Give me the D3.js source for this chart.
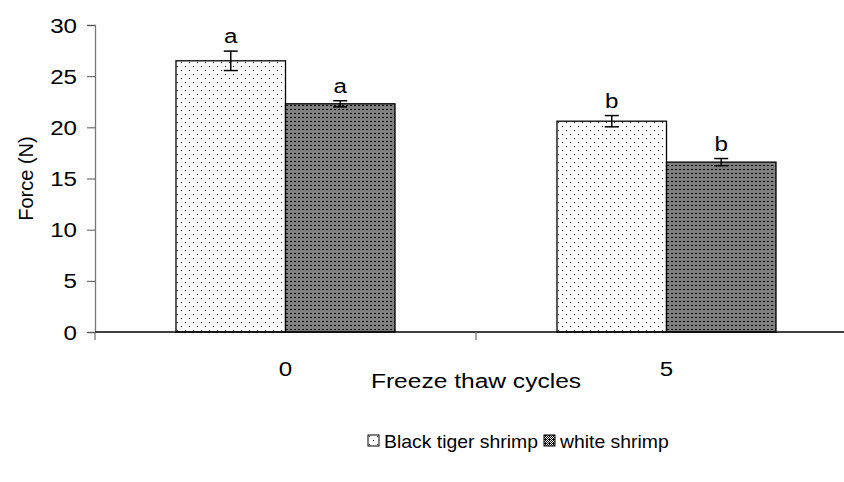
<!DOCTYPE html>
<html>
<head>
<meta charset="utf-8">
<script src="https://cdn.jsdelivr.net/npm/d3@7"></script>
<style>
  body { margin: 0; background: #fff; }
  text { font-family: "Liberation Sans", Arial, sans-serif; fill: #000; }
</style>
</head>
<body>
<div id="chart"></div>
<script>
// data
var cycles = ["0", "5"];
var seriesNames = ["Black tiger shrimp", "white shrimp"];
var tigerForce = [26.5, 20.6];
var tigerErr = [0.95, 0.55];
var whiteForce = [22.3, 16.6];
var whiteErr = [0.3, 0.35];
var tigerLetters = ["a", "b"];
var whiteLetters = ["a", "b"];
var yTicks = [0, 5, 10, 15, 20, 25, 30];

var svgWidth = 844, svgHeight = 482;
var margin = { top: 25, right: -13, bottom: 150, left: 95 };
var width = svgWidth - margin.left - margin.right;
var height = svgHeight - margin.top - margin.bottom;

var svg = d3.select("#chart").append("svg")
    .attr("width", svgWidth)
    .attr("height", svgHeight);

// the source picture is a bit stretched sideways, so the text is too
function label(parent, x, y, str, size, sx, anchor) {
    return parent.append("text")
        .attr("transform", `translate(${x},${y}) scale(${sx},1)`)
        .attr("text-anchor", anchor || "middle")
        .style("font-size", size + "px")
        .text(str);
}

// fill patterns, like the old Excel ones
var defs = svg.append("defs");
var dots = defs.append("pattern")
    .attr("id", "dots").attr("patternUnits", "userSpaceOnUse")
    .attr("width", 8).attr("height", 8);
dots.append("rect").attr("width", 8).attr("height", 8).attr("fill", "#fff");
dots.append("rect").attr("x", 1).attr("y", 1).attr("width", 1).attr("height", 1).attr("fill", "#000");
dots.append("rect").attr("x", 5).attr("y", 5).attr("width", 1).attr("height", 1).attr("fill", "#000");

var checks = defs.append("pattern")
    .attr("id", "checks").attr("patternUnits", "userSpaceOnUse")
    .attr("width", 4).attr("height", 4);
checks.append("rect").attr("width", 4).attr("height", 4).attr("fill", "#fff");
[[0,0],[2,0],[1,1],[3,1],[0,2],[2,2],[1,3],[3,3],[1,0]].forEach(function(p) {
    checks.append("rect").attr("x", p[0]).attr("y", p[1])
        .attr("width", 1).attr("height", 1).attr("fill", "#000");
});
defs.selectAll("rect").attr("shape-rendering", "crispEdges");

var chartGroup = svg.append("g")
    .attr("transform", `translate(${margin.left}, ${margin.top})`);

var xScale = d3.scaleBand().domain(cycles).range([0, width]).paddingInner(0).paddingOuter(0);
var xInner = d3.scaleBand().domain(seriesNames).range([81, xScale.bandwidth() - 81]);
var yScale = d3.scaleLinear().domain([0, 30]).range([height, 0]);

// y axis
var leftAxis = d3.axisLeft(yScale).tickValues(yTicks).tickSize(8).tickFormat("");
var yAxisG = chartGroup.append("g").call(leftAxis);
yAxisG.select(".domain").attr("stroke", "#777").attr("stroke-width", 1.3);
yAxisG.selectAll(".tick line").attr("stroke", "#555");
yTicks.forEach(function(t) {
    label(chartGroup, -18, yScale(t) + 7.5, String(t), 21, 1.15, "end");
});

var rows = cycles.map(function(c, i) {
    return [
        { cat: c, name: seriesNames[0], v: tigerForce[i], e: tigerErr[i], lab: tigerLetters[i], fill: "url(#dots)" },
        { cat: c, name: seriesNames[1], v: whiteForce[i], e: whiteErr[i], lab: whiteLetters[i], fill: "url(#checks)" }
    ];
});
var flat = [].concat.apply([], rows);

var groups = chartGroup.selectAll(".grp")
    .data(flat).enter().append("g")
    .attr("transform", d => `translate(${xScale(d.cat) + xInner(d.name)},0)`);

groups.append("rect")
    .attr("x", 0)
    .attr("y", d => yScale(d.v))
    .attr("width", xInner.bandwidth())
    .attr("height", d => height - yScale(d.v))
    .attr("fill", d => d.fill)
    .attr("stroke", "#000")
    .attr("stroke-width", 1.3);

// error bars
var bw = xInner.bandwidth();
groups.append("line")
    .attr("x1", bw / 2).attr("x2", bw / 2)
    .attr("y1", d => yScale(d.v + d.e)).attr("y2", d => yScale(d.v - d.e))
    .attr("stroke", "#000").attr("stroke-width", 1.5);
groups.append("line")
    .attr("x1", bw / 2 - 7).attr("x2", bw / 2 + 7)
    .attr("y1", d => yScale(d.v + d.e)).attr("y2", d => yScale(d.v + d.e))
    .attr("stroke", "#000").attr("stroke-width", 1.5);
groups.append("line")
    .attr("x1", bw / 2 - 7).attr("x2", bw / 2 + 7)
    .attr("y1", d => yScale(d.v - d.e)).attr("y2", d => yScale(d.v - d.e))
    .attr("stroke", "#000").attr("stroke-width", 1.5);

groups.each(function(d) {
    label(d3.select(this), bw / 2, yScale(d.v + d.e) - 8, d.lab, 21, 1.15);
});

// baseline and category ticks
chartGroup.append("line")
    .attr("x1", 0).attr("x2", width).attr("y1", height).attr("y2", height)
    .attr("stroke", "#000").attr("stroke-width", 1.3);
var bounds = [0].concat(cycles.map(c => xScale(c) + xScale.bandwidth()));
chartGroup.selectAll(".xt").data(bounds).enter().append("line")
    .attr("x1", d => d).attr("x2", d => d)
    .attr("y1", height).attr("y2", height + 8)
    .attr("stroke", "#777").attr("stroke-width", 1.3);
cycles.forEach(function(c) {
    label(chartGroup, xScale(c) + xScale.bandwidth() / 2, height + 44, c, 21, 1.15);
});

// axis titles
chartGroup.append("text")
    .attr("transform", `translate(-62,${height / 2}) rotate(-90)`)
    .attr("text-anchor", "middle")
    .style("font-size", "20px")
    .text("Force (N)");
label(svg, 476, 388, "Freeze thaw cycles", 21, 1.17);

// legend
var legend = svg.append("g").attr("transform", "translate(368, 435)");
var lx = 0;
seriesNames.forEach(function(n, i) {
    legend.append("rect")
        .attr("x", lx).attr("y", 0).attr("width", 11).attr("height", 11)
        .attr("fill", i === 0 ? "url(#dots)" : "url(#checks)")
        .attr("stroke", "#000").attr("stroke-width", 1);
    var t = label(legend, lx + 16, 13, n, 19, 1.02, "start");
    lx += 16 + t.node().getComputedTextLength() * 1.02 + 6;
});
</script>
</body>
</html>
